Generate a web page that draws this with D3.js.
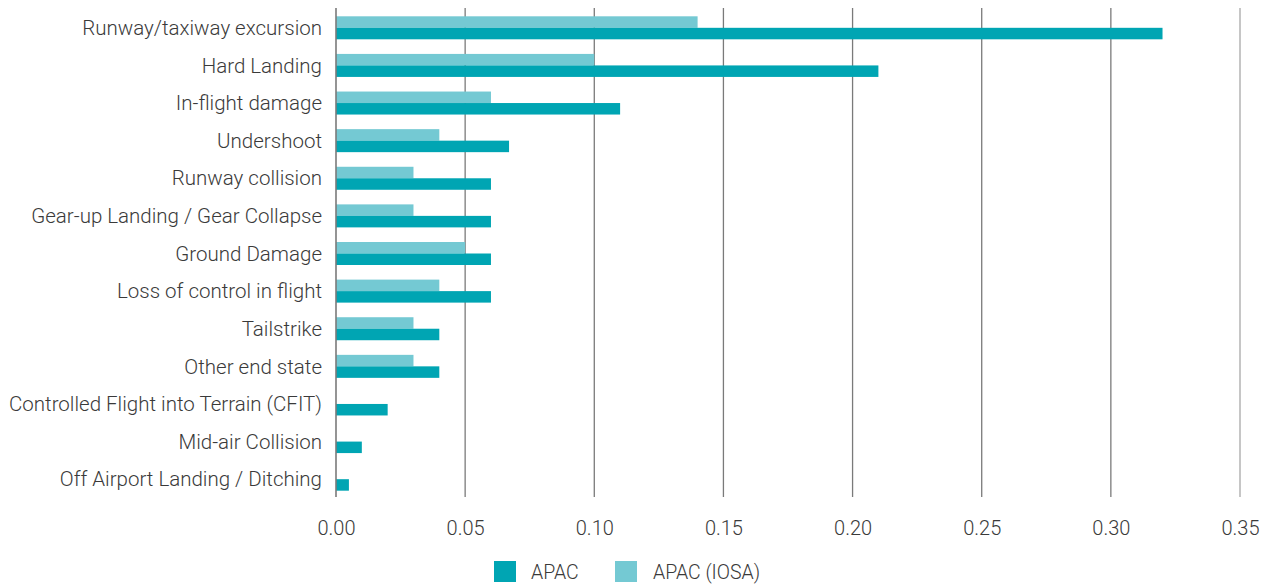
<!DOCTYPE html>
<html>
<head>
<meta charset="utf-8">
<script src="https://cdn.jsdelivr.net/npm/d3@7"></script>
<style>
  html, body { margin: 0; padding: 0; background: #fff; }
  svg { display: block; }
  text { font-family: Roboto, "DejaVu Sans", sans-serif; font-weight: 300; fill: #3a3a3a; }
</style>
</head>
<body>
<svg id="chart" width="1271" height="585"></svg>
<script>
const categories = [
  "Runway/taxiway excursion",
  "Hard Landing",
  "In-flight damage",
  "Undershoot",
  "Runway collision",
  "Gear-up Landing / Gear Collapse",
  "Ground Damage",
  "Loss of control in flight",
  "Tailstrike",
  "Other end state",
  "Controlled Flight into Terrain (CFIT)",
  "Mid-air Collision",
  "Off Airport Landing / Ditching"
];
const apac     = [0.32, 0.21, 0.11, 0.067, 0.06, 0.06, 0.06, 0.06, 0.04, 0.04, 0.02, 0.01, 0.005];
const apacIosa = [0.14, 0.10, 0.06, 0.04, 0.03, 0.03, 0.05, 0.04, 0.03, 0.03, 0, 0, 0];
const xTicks = [0, 0.05, 0.10, 0.15, 0.20, 0.25, 0.30, 0.35];
const seriesNames = ["APAC", "APAC (IOSA)"];
const colors = ["#00A5B3", "#74C9D3"];

const svg = d3.select("#chart");
const x = d3.scaleLinear().domain([0, 0.35]).range([336, 1240]);
const y = d3.scaleBand().domain(categories).range([9, 498]).padding(0);
const barH = 11.5;

// gridlines
svg.append("g").selectAll("line").data(xTicks.slice(1)).join("line")
  .attr("x1", d => x(d)).attr("x2", d => x(d))
  .attr("y1", 8).attr("y2", 497)
  .attr("stroke", (d, i) => i === xTicks.length - 2 ? "#a8a8a8" : "#7a7a7a")
  .attr("stroke-width", 1.3);

// bars
const rows = categories.map((c, i) => ({c, a: apac[i], b: apacIosa[i]}));
const g = svg.append("g");
g.selectAll("rect.iosa").data(rows.filter(d => d.b > 0)).join("rect")
  .attr("class", "iosa")
  .attr("x", x(0)).attr("width", d => x(d.b) - x(0))
  .attr("y", d => y(d.c) + y.bandwidth() / 2 - barH).attr("height", barH)
  .attr("fill", colors[1]);
g.selectAll("rect.apac").data(rows).join("rect")
  .attr("class", "apac")
  .attr("x", x(0)).attr("width", d => x(d.a) - x(0))
  .attr("y", d => y(d.c) + y.bandwidth() / 2).attr("height", barH)
  .attr("fill", colors[0]);

// zero axis line
svg.append("line").attr("x1", x(0)).attr("x2", x(0)).attr("y1", 8).attr("y2", 497)
  .attr("stroke", "#7a7a7a").attr("stroke-width", 1.6);

// category labels
svg.append("g").selectAll("text").data(categories).join("text")
  .attr("x", 322).attr("y", d => y(d) + y.bandwidth() / 2)
  .attr("dy", "0.35em").attr("text-anchor", "end")
  .attr("font-size", 20.5).text(d => d);

// x tick labels
const xAxis = d3.axisBottom(x).tickValues(xTicks).tickFormat(d3.format(".2f")).tickSize(0).tickPadding(0);
const ax = svg.append("g").attr("transform", "translate(0,521)").call(xAxis);
ax.select(".domain").remove();
ax.selectAll("text").attr("font-size", 20).attr("dy", "0.71em")
  .style("font-family", "Roboto, sans-serif").style("font-weight", 300).attr("fill", "#3a3a3a");

// legend
const leg = svg.append("g");
const legX = [494, 615];
const legTx = [531, 653];
seriesNames.forEach((s, i) => {
  leg.append("rect").attr("x", legX[i]).attr("y", 561).attr("width", 22).attr("height", 21).attr("fill", colors[i]);
  leg.append("text").attr("x", legTx[i]).attr("y", 572).attr("dy", "0.35em").attr("font-size", 19.5).text(s);
});
</script>
</body>
</html>
